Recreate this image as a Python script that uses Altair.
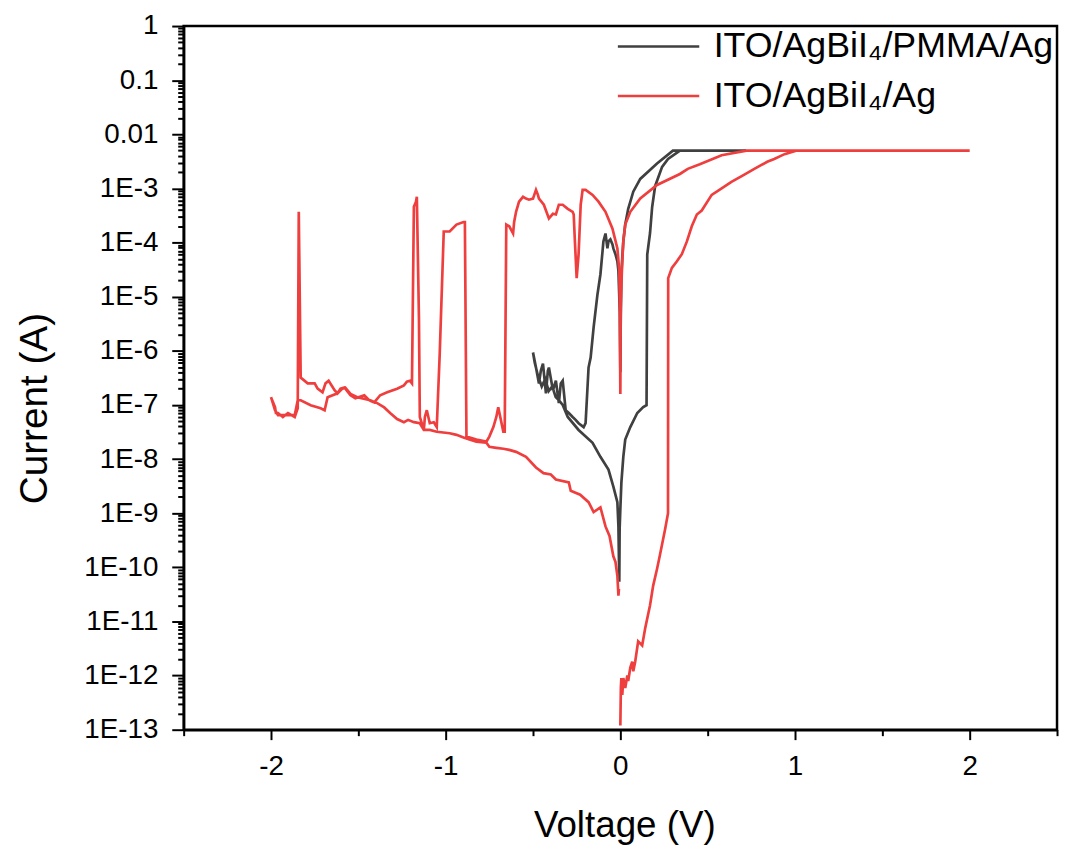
import altair as alt
import pandas as pd

BLACK = "ITO/AgBiI₄/PMMA/Ag"
RED = "ITO/AgBiI₄/Ag"

black_v = [-0.006, -0.004, 0.000, 0.006, 0.017, 0.028, 0.057, 0.097, 0.131, 0.150, 0.154, 0.170, 0.182,
           0.199, 0.239, 0.273, 0.341, 0.720, 0.301, 0.210, 0.114, 0.074, 0.045, 0.028, 0.017, 0.011,
           0.006, 0.002, 0.000, -0.003, -0.011, -0.017, -0.028, -0.040, -0.045, -0.057, -0.068, -0.074,
           -0.085, -0.097, -0.102, -0.114, -0.131, -0.153, -0.170, -0.182, -0.188, -0.199, -0.210,
           -0.239, -0.256, -0.273, -0.295, -0.313, -0.330, -0.341, -0.352, -0.369, -0.386, -0.409,
           -0.415, -0.426, -0.443, -0.455, -0.466, -0.483, -0.500, -0.490, -0.472, -0.450, -0.430,
           -0.410, -0.390, -0.370, -0.350, -0.330, -0.301, -0.239, -0.159, -0.114, -0.068, -0.040,
           -0.017, -0.011, -0.006]
black_i = [5.4e-11, 5.1e-10, 1.2e-9, 3.7e-9, 1.1e-8, 2.3e-8, 3.9e-8, 7.1e-8, 9.1e-8, 9.9e-8, 6.0e-5, 1.5e-4,
           4.5e-4, 1.1e-3, 2.5e-3, 3.5e-3, 5.0e-3, 5.0e-3, 5.0e-3, 2.9e-3, 1.5e-3, 8.7e-4, 4.2e-4,
           2.15e-4, 1.05e-4, 5.2e-5, 2.6e-5, 3.0e-6, 4.0e-7, 5.0e-6, 3.0e-5, 4.5e-5, 6.1e-5, 7.8e-5,
           9.2e-5, 1.14e-4, 1.05e-4, 7.8e-5, 1.47e-4, 1.05e-4, 6.9e-5, 2.6e-5, 1.1e-5, 2.7e-6, 7.5e-7,
           4.9e-7, 2.1e-7, 4.6e-8, 3.9e-8, 4.6e-8, 5.3e-8, 6.0e-8, 7.1e-8, 8.0e-8, 2.8e-7, 2.5e-7,
           1.08e-7, 2.8e-7, 1.87e-7, 4.9e-7, 4.3e-7, 1.64e-7, 5.8e-7, 4.3e-7, 2.5e-7, 4.9e-7, 9.3e-7,
           6.0e-7, 3.5e-7, 2.2e-7, 3.0e-7, 1.8e-7, 2.2e-7, 1.4e-7, 1.2e-7, 1.0e-7, 6.0e-8, 3.45e-8,
           2.0e-8, 1.1e-8, 6.4e-9, 3.1e-9, 1.6e-9, 5.7e-10, 5.4e-11]

red_v = [0.000, 0.003, 0.006, 0.011, 0.017, 0.028, 0.040, 0.045, 0.057, 0.068, 0.074, 0.085, 0.102, 0.125,
         0.142, 0.170, 0.188, 0.210, 0.227, 0.256, 0.273, 0.274, 0.295, 0.324, 0.352, 0.381, 0.409, 0.438,
         0.466, 0.523, 0.580, 0.636, 0.710, 0.767, 0.841, 0.881, 0.940, 1.006, 2.000,
         0.722, 0.580, 0.455, 0.386, 0.341, 0.210, 0.114, 0.057, 0.028, 0.017, 0.011, 0.006, 0.002, 0.000,
         -0.003, -0.006, -0.017, -0.045, -0.085, -0.125, -0.159, -0.199, -0.216, -0.227, -0.239, -0.250,
         -0.261, -0.267, -0.273, -0.301, -0.330, -0.352, -0.369, -0.386, -0.409, -0.438, -0.466, -0.472,
         -0.483, -0.500, -0.523, -0.540, -0.557, -0.580, -0.585, -0.597, -0.608, -0.614, -0.636, -0.653,
         -0.662, -0.670, -0.699, -0.710, -0.727, -0.750, -0.767, -0.824, -0.881, -0.890, -0.898, -0.938,
         -0.977, -1.011, -1.034, -1.051, -1.068, -1.091, -1.108, -1.119, -1.125, -1.148, -1.153, -1.165,
         -1.170, -1.182, -1.193, -1.205, -1.222, -1.239, -1.278, -1.335, -1.375, -1.409, -1.438, -1.466,
         -1.517, -1.545, -1.580, -1.602, -1.619, -1.636, -1.670, -1.688, -1.705, -1.733, -1.750, -1.790,
         -1.830, -1.841, -1.847, -1.864, -1.903, -1.932, -1.960, -1.972, -1.977, -2.000,
         -1.977, -1.960, -1.920, -1.864, -1.847, -1.830, -1.773, -1.716, -1.693, -1.676, -1.619, -1.591,
         -1.575, -1.545, -1.506, -1.432, -1.392, -1.352, -1.318, -1.278, -1.239, -1.215, -1.182, -1.148,
         -1.125, -1.091, -1.051, -0.977, -0.938, -0.898, -0.864, -0.824, -0.767, -0.750, -0.710, -0.670,
         -0.636, -0.597, -0.540, -0.483, -0.440, -0.398, -0.369, -0.295, -0.284, -0.230, -0.182, -0.153,
         -0.114, -0.085, -0.062, -0.040, -0.028, -0.017, -0.011, -0.008]
red_i = [1.2e-13, 6.0e-13, 9.0e-13, 4.4e-13, 9.0e-13, 5.9e-13, 1.0e-12, 7.9e-13, 1.4e-12, 1.8e-12, 1.2e-12,
         1.8e-12, 4.3e-12, 3.6e-12, 7.4e-12, 2.0e-11, 4.6e-11, 9.3e-11, 1.7e-10, 5.0e-10, 1.0e-9, 2.2e-5,
         3.4e-5, 4.5e-5, 6.1e-5, 1.05e-4, 2.0e-4, 3.3e-4, 3.9e-4, 7.6e-4, 1.0e-3, 1.32e-3, 1.8e-3, 2.3e-3,
         3.1e-3, 3.5e-3, 4.3e-3, 5.0e-3, 5.0e-3,
         5.0e-3, 4.1e-3, 2.8e-3, 2.3e-3, 1.85e-3, 1.16e-3, 6.5e-4, 3.7e-4, 2.15e-4, 1.05e-4, 4.5e-5,
         1.7e-5, 6.2e-6, 1.6e-7,
         6.2e-6, 3.0e-5, 7.8e-5, 1.8e-4, 3.7e-4, 5.7e-4, 7.6e-4, 9.4e-4, 9.4e-4, 5.0e-4, 6.1e-5, 2.2e-5,
         1.2e-4, 3.3e-4, 3.7e-4, 4.2e-4, 5.0e-4, 5.0e-4, 3.3e-4, 3.4e-4, 2.8e-4, 5.0e-4, 6.5e-4, 7.6e-4,
         9.4e-4, 6.5e-4, 6.2e-4, 6.5e-4, 7.0e-4, 5.7e-4, 5.0e-4, 3.7e-4, 2.4e-4, 1.47e-4, 2.0e-4, 2.15e-4,
         3.2e-8, 3.2e-8, 9.1e-8, 6.0e-8, 3.9e-8, 2.6e-8, 2.1e-8, 2.3e-8, 2.6e-8, 2.4e-4, 2.4e-4, 2.15e-4,
         1.6e-4, 1.6e-4, 8.9e-7, 3.9e-8, 4.8e-8, 4.6e-8, 8.0e-8, 6.0e-8, 3.45e-8, 6.0e-8, 4.1e-6, 7.0e-4,
         5.7e-4, 4.6e-4, 2.5e-7, 2.8e-7, 2.7e-7, 2.3e-7, 2.0e-7, 1.71e-7, 1.51e-7, 1.12e-7, 1.22e-7, 1.51e-7,
         1.33e-7, 1.51e-7, 2.1e-7, 2.0e-7, 1.64e-7, 1.87e-7, 2.8e-7, 2.5e-7, 1.71e-7, 2.0e-7, 2.5e-7, 2.5e-7,
         3.2e-7, 3.7e-4, 8.7e-8, 6.0e-8, 7.1e-8, 6.0e-8, 7.1e-8, 7.1e-8, 9.1e-8, 1.39e-7,
         8.0e-8, 6.5e-8, 6.5e-8, 6.5e-8, 1.22e-7, 1.22e-7, 9.9e-8, 8.7e-8, 8.0e-8, 1.39e-7, 1.64e-7, 2.0e-7,
         2.1e-7, 1.6e-7, 1.39e-7, 1.22e-7, 1.08e-7, 9.0e-8, 7.1e-8, 5.5e-8, 4.8e-8, 5.3e-8, 4.8e-8, 4.6e-8,
         3.45e-8, 3.45e-8, 3.2e-8, 3.0e-8, 2.8e-8, 2.5e-8, 2.3e-8, 2.1e-8, 2.0e-8, 1.68e-8, 1.61e-8, 1.55e-8,
         1.48e-8, 1.36e-8, 1.1e-8, 7.0e-9, 5.5e-9, 5.2e-9, 4.2e-9, 3.7e-9, 2.6e-9, 2.2e-9, 1.6e-9, 1.05e-9,
         1.28e-9, 5.7e-10, 3.8e-10, 1.6e-10, 1.26e-10, 7.0e-11, 3.0e-11, 4.0e-11]

x_ticks = [-2.5, -2, -1.5, -1, -0.5, 0, 0.5, 1, 1.5, 2, 2.5]
y_decades = [10.0 ** (-k) for k in range(0, 14)]
y_minors = [m * 10.0 ** (-k) for k in range(1, 14) for m in range(2, 10)]
y_ticks = sorted(y_decades + y_minors)

df_b = pd.DataFrame({"V": black_v, "I": black_i, "series": BLACK, "k": list(range(len(black_v)))})
df_r = pd.DataFrame({"V": red_v, "I": red_i, "series": RED, "k": list(range(len(red_v)))})

is_decade = "abs(log(datum.value)/LN10 - round(log(datum.value)/LN10)) < 0.001"

x_enc = alt.X(
    "V:Q",
    scale=alt.Scale(domain=[-2.5, 2.5], nice=False, zero=False),
    axis=alt.Axis(
        title="Voltage (V)",
        values=x_ticks,
        labelExpr="datum.value % 1 === 0 ? '' + datum.value : ''",
        tickSize={"condition": {"test": "datum.value % 1 === 0", "value": 10}, "value": 6},
        labelPadding=13,
        titleX=444, titleY=97, titleAlign="center", titleBaseline="middle",
    ),
)
y_enc = alt.Y(
    "I:Q",
    scale=alt.Scale(type="log", domain=[1e-13, 1], nice=False),
    axis=alt.Axis(
        title="Current (A)",
        values=y_ticks,
        labelExpr="(" + is_decade + ") ? (datum.value >= 0.01 ? '' + datum.value : '1E-' + round(-log(datum.value)/LN10)) : ''",
        tickSize={"condition": {"test": is_decade, "value": 12}, "value": 6},
        labelPadding=14,
        titleFontSize=39,
        titleX=-150, titleY=385, titleAlign="center", titleBaseline="middle", titleAngle=270,
    ),
)


def legend_at(y):
    return alt.Legend(
        title=None, orient="none", legendX=436, legendY=y,
        symbolType="stroke", symbolSize=6724, symbolStrokeWidth=2.5,
        labelFontSize=36, labelFont="Liberation Sans", labelColor="black", labelLimit=0,
        labelOffset=13, padding=0,
    )


black_line = alt.Chart(df_b).mark_line(strokeWidth=2.7, clip=True).encode(
    x=x_enc, y=y_enc,
    color=alt.Color("series:N", scale=alt.Scale(domain=[BLACK], range=["#404040"]), legend=legend_at(-22)),
    order="k:Q")
red_line = alt.Chart(df_r).mark_line(strokeWidth=2.7, clip=True).encode(
    x=x_enc, y=y_enc,
    color=alt.Color("series:N", scale=alt.Scale(domain=[RED], range=["#ef3e3e"]), legend=legend_at(28)),
    order="k:Q")

chart = alt.layer(black_line, red_line).resolve_scale(color="independent").properties(
    width=880, height=709, autosize="none",
    padding={"left": 177, "top": 15, "right": 3, "bottom": 115},
).configure_view(stroke="black", strokeWidth=2.5).configure_axis(
    grid=False, domainColor="black", domainWidth=2.5, tickColor="black", tickWidth=2,
    labelFont="Liberation Sans", labelFontSize=28, labelColor="black",
    titleFont="Liberation Sans", titleFontSize=37, titleFontWeight="normal", titleColor="black",
)

chart.save("out.html", embed_options={"renderer": "svg", "actions": False})
